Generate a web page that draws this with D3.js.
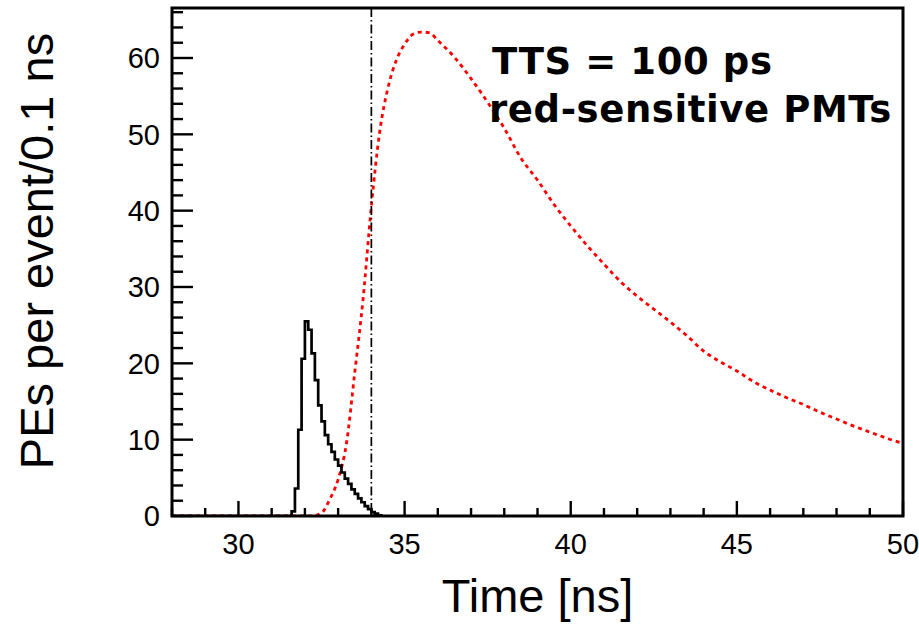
<!DOCTYPE html>
<html lang="en">
<head>
    <meta charset="UTF-8" />
    <title>PE time distribution</title>
    <script src="https://d3js.org/d3.v7.min.js"></script>
    <style>
        body {
            margin: 0;
            background: #fff;
        }
        svg {
            display: block;
        }
        .tick-label {
            font-family: "Liberation Sans", Arial, sans-serif;
            font-size: 29px;
            fill: #000;
        }
        .axis-title {
            font-family: "Liberation Sans", Arial, sans-serif;
            font-size: 47px;
            fill: #000;
        }
        .note {
            font-family: "Comic Sans MS", "DejaVu Sans", sans-serif;
            font-weight: bold;
            font-size: 37px;
            letter-spacing: 0.6px;
            fill: #000;
        }
    </style>
</head>
<body>
    <svg id="chart"></svg>

    <script>
        // black histogram: lower bin edges (ns) and PEs per event per 0.1 ns
        const blackTime = [31.5, 31.6, 31.7, 31.8, 31.9, 32.0, 32.1, 32.2, 32.3, 32.4,
                           32.5, 32.6, 32.7, 32.8, 32.9, 33.0, 33.1, 33.2, 33.3, 33.4,
                           33.5, 33.6, 33.7, 33.8, 33.9, 34.0, 34.1, 34.2, 34.3];
        const blackPE = [0, 0.6, 3.6, 11.3, 20.6, 25.5, 24.4, 21.3, 17.8, 14.5,
                         12.4, 10.6, 9.4, 8.4, 7.4, 6.6, 5.7, 4.9, 4.2, 3.5,
                         2.9, 2.3, 1.8, 1.3, 0.9, 0.5, 0.3, 0.1, 0];

        // red dotted curve (red-sensitive PMTs)
        const redTime = [28, 32.2, 32.5, 32.75, 33.0, 33.25, 33.5, 33.75, 34.0, 34.25,
                         34.5, 34.75, 35.0, 35.25, 35.5, 35.75, 36.0, 36.5, 37.0, 37.5,
                         38.0, 38.5, 39.0, 39.5, 40.0, 40.5, 41.0, 41.5, 42.0, 42.5,
                         43.0, 43.5, 44.0, 44.5, 45.0, 45.5, 46.0, 46.5, 47.0, 47.5,
                         48.0, 48.5, 49.0, 49.5, 50.0];
        const redPE = [0, 0, 0.4, 2.2, 4.8, 9.5, 18.8, 28.4, 40.6, 50.3,
                       56.1, 59.7, 61.8, 63.1, 63.4, 63.3, 62.3, 60.1, 57.3, 54.2,
                       50.8, 46.9, 44.0, 40.8, 38.0, 35.4, 33.0, 30.7, 28.8, 27.1,
                       25.4, 23.6, 21.6, 20.2, 19.0, 17.6, 16.5, 15.5, 14.6, 13.6,
                       12.7, 11.8, 11.0, 10.2, 9.5];

        const cutTime = 34.0;
        const xMajor = [30, 35, 40, 45, 50];
        const yMajor = [0, 10, 20, 30, 40, 50, 60];
        const noteLines = ["TTS = 100 ps", "red-sensitive PMTs"];

        const width = 919, height = 624;
        const margin = {top: 8, right: 16, bottom: 108, left: 172};
        const iw = width - margin.left - margin.right;
        const ih = height - margin.top - margin.bottom;

        const svg = d3.select("#chart")
            .attr("width", width)
            .attr("height", height);

        const g = svg.append("g")
            .attr("transform", `translate(${margin.left},${margin.top})`);

        const x = d3.scaleLinear().domain([28, 50]).range([0, iw]);
        const y = d3.scaleLinear().domain([0, 66.55]).range([ih, 0]);

        g.append("clipPath").attr("id", "plot-clip")
            .append("rect").attr("width", iw).attr("height", ih);

        const plot = g.append("g").attr("clip-path", "url(#plot-clip)");

        // red dotted curve
        const redPts = redTime.map((t, i) => [t, redPE[i]]);
        plot.append("path")
            .datum(redPts)
            .attr("fill", "none")
            .attr("stroke", "#ff0000")
            .attr("stroke-width", 2.8)
            .attr("stroke-dasharray", "4,4")
            .attr("d", d3.line().x(d => x(d[0])).y(d => y(d[1])).curve(d3.curveMonotoneX));

        // black step histogram
        const blackPts = [[28, 0]].concat(blackTime.map((t, i) => [t, blackPE[i]]));
        plot.append("path")
            .datum(blackPts)
            .attr("fill", "none")
            .attr("stroke", "#000")
            .attr("stroke-width", 2.7)
            .attr("d", d3.line().x(d => x(d[0])).y(d => y(d[1])).curve(d3.curveStepAfter));

        // dash-dot cut line
        plot.append("line")
            .attr("x1", x(cutTime)).attr("x2", x(cutTime))
            .attr("y1", 0).attr("y2", ih)
            .attr("stroke", "#000")
            .attr("stroke-width", 1.7)
            .attr("stroke-dasharray", "9,3,1.5,3");

        // ticks (inward, ROOT style)
        const ticks = g.append("g");
        d3.range(28, 50.01, 1).forEach(v => {
            const major = v % 5 === 0;
            ticks.append("line")
                .attr("x1", x(v)).attr("x2", x(v))
                .attr("y1", ih).attr("y2", ih - (major ? 15 : 8))
                .attr("stroke", "#000").attr("stroke-width", 2.4);
        });
        d3.range(0, 66.01, 2).forEach(v => {
            const major = v % 10 === 0;
            ticks.append("line")
                .attr("x1", 0).attr("x2", major ? 21 : 11)
                .attr("y1", y(v)).attr("y2", y(v))
                .attr("stroke", "#000").attr("stroke-width", 2.4);
        });

        // tick labels
        g.append("g").selectAll("text")
            .data(xMajor)
            .join("text")
            .attr("class", "tick-label")
            .attr("x", d => x(d))
            .attr("y", ih + 38)
            .attr("text-anchor", "middle")
            .text(d => d);

        g.append("g").selectAll("text")
            .data(yMajor)
            .join("text")
            .attr("class", "tick-label")
            .attr("x", -12)
            .attr("y", d => y(d))
            .attr("dy", "0.36em")
            .attr("text-anchor", "end")
            .text(d => d);

        // frame
        g.append("rect")
            .attr("width", iw).attr("height", ih)
            .attr("fill", "none")
            .attr("stroke", "#000")
            .attr("stroke-width", 3);

        // axis titles
        svg.append("text")
            .attr("class", "axis-title")
            .attr("x", margin.left + iw / 2)
            .attr("y", 612)
            .attr("text-anchor", "middle")
            .text("Time [ns]");

        svg.append("text")
            .attr("class", "axis-title")
            .attr("transform", "translate(53,251) rotate(-90)")
            .attr("text-anchor", "middle")
            .text("PEs per event/0.1 ns");

        // annotation
        svg.append("text")
            .attr("class", "note")
            .attr("x", 492).attr("y", 74)
            .text(noteLines[0]);
        svg.append("text")
            .attr("class", "note")
            .attr("x", 489).attr("y", 122)
            .text(noteLines[1]);
    </script>
</body>
</html>
